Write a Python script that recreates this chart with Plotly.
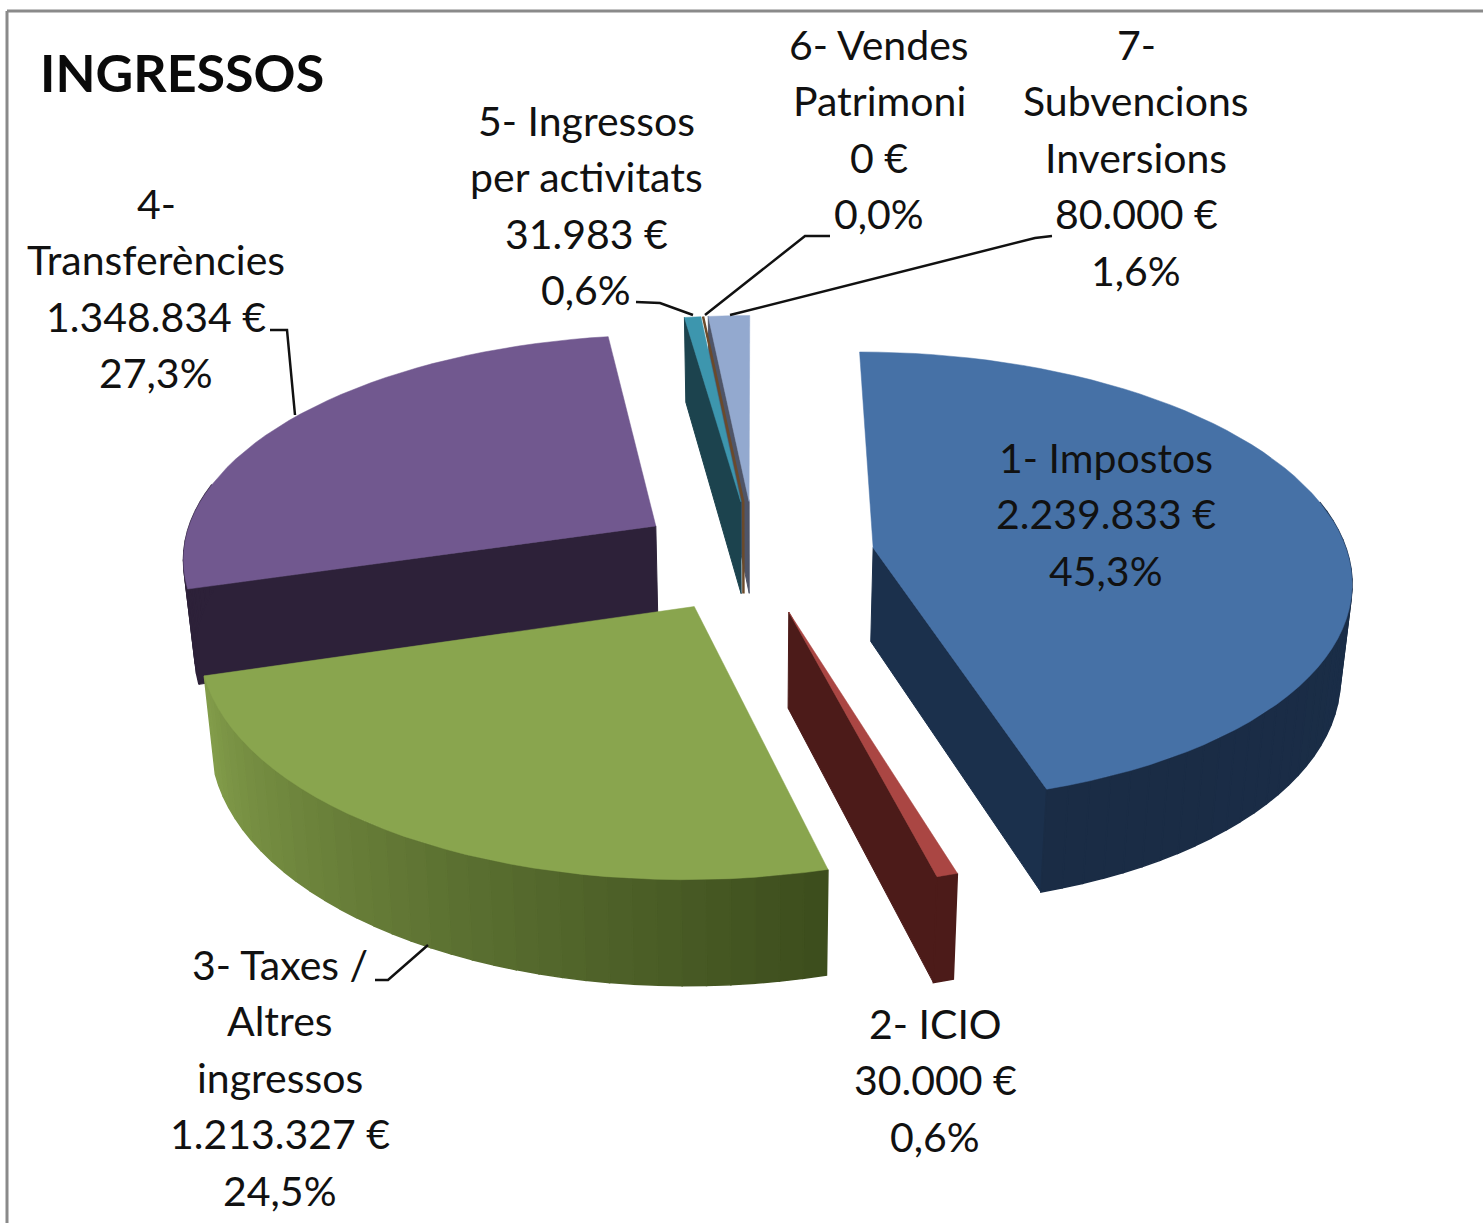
import numpy as np
import plotly.graph_objects as go

# ---- data ----
categories = ["1- Impostos", "2- ICIO", "3- Taxes / Altres ingressos", "4- Transferències",
              "5- Ingressos per activitats", "6- Vendes Patrimoni", "7- Subvencions Inversions"]
values = [2239833, 30000, 1213327, 1348834, 31983, 0, 80000]
label_lines = [
    ["1- Impostos", "2.239.833 €", "45,3%"],
    ["2- ICIO", "30.000 €", "0,6%"],
    ["3- Taxes /", "Altres", "ingressos", "1.213.327 €", "24,5%"],
    ["4-", "Transferències", "1.348.834 €", "27,3%"],
    ["5- Ingressos", "per activitats", "31.983 €", "0,6%"],
    ["6- Vendes", "Patrimoni", "0 €", "0,0%"],
    ["7-", "Subvencions", "Inversions", "80.000 €", "1,6%"],
]
top_colors = ["#4671a6", "#aa4643", "#89a54e", "#71588f", "#3d96ae", "#6b4a2a", "#93a9cf"]
wall_start = ["#1b304c", "#4c1b19", "#3c4d1d", "#2d2139", "#1c434e", "#6b4a2a", "#4f5568"]
wall_end = ["#1a2c45", "#4c1b19", "#849e4b", "#2d2139", "#1c434e", "#6b4a2a", "#4f5568"]
draw_order = [6, 5, 4, 3, 0, 2, 1]

# ---- presentation ----
CX, CY, R, EXPLODE, TILT, PERSP, HEIGHT = 755, 556, 475, 120, 0.47, 0.13, 94
BOTTOM_SCALE = 0.98
FONT = "Lato"
FS = 41
label_pos = [(1106, 457), (935, 1023), (280, 964), (156, 203), (586, 120), (879, 44), (1136, 44)]
LINE_PITCH = 56.5
leaders = [
    ([270, 287, 295], [330, 330, 415]),
    ([375, 388, 428], [980, 980, 945]),
    ([636, 660, 693], [302, 303, 315]),
    ([830, 805, 705], [236, 236, 315]),
    ([1052, 1035, 730], [236, 238, 315]),
]


def project(X, Y, Z=0.0):
    s = 1.0 / (1.0 + PERSP * np.asarray(Y) / R)
    px = CX + np.asarray(X) * s
    py = CY - np.asarray(Y) * TILT * s
    if Z:
        px = CX + (px - CX) * BOTTOM_SCALE
        py = py + Z * s ** 0.7
    return px, py


def hex2rgb(c):
    return np.array([int(c[i:i + 2], 16) for i in (1, 3, 5)], float)


def mix(a, b, t):
    v = hex2rgb(a) * (1 - t) + hex2rgb(b) * t
    return "rgb(%d,%d,%d)" % tuple(v)


fig = go.Figure()


def poly(x, y, color, width=1.0):
    x, y = list(x), list(y)
    fig.add_trace(go.Scatter(x=x + x[:1], y=y + y[:1], mode="lines", fill="toself", fillcolor=color,
                             line=dict(color=color, width=width), hoverinfo="skip", showlegend=False))


total = sum(values)
edges = np.concatenate([[0], np.cumsum(values)]) / total * 2 * np.pi

for i in draw_order:
    a0, a1 = edges[i], edges[i + 1]
    mid = (a0 + a1) / 2
    ox, oy = EXPLODE * np.sin(mid), EXPLODE * np.cos(mid)
    if values[i] == 0:
        xs = [ox, ox + R * np.sin(a0)]
        ys = [oy, oy + R * np.cos(a0)]
        px, py = project(xs, ys)
        bx, by = project(ox, oy, HEIGHT)
        fig.add_trace(go.Scatter(x=[px[1], px[0], bx], y=[py[1], py[0], by], mode="lines",
                                 line=dict(color=top_colors[i], width=2.5),
                                 hoverinfo="skip", showlegend=False))
        continue
    n = max(int(np.degrees(a1 - a0) / 2.5), 1)
    th = np.linspace(a0, a1, n + 1)
    ex, ey = ox + R * np.sin(th), oy + R * np.cos(th)
    tx, ty = project(ex, ey)
    bx, by = project(ex, ey, HEIGHT)
    ax, ay = project(ox, oy)
    abx, aby = project(ox, oy, HEIGHT)
    # radial faces that turn towards the viewer
    if np.sin(a0) < -1e-6:
        poly([ax, tx[0], bx[0], abx], [ay, ty[0], by[0], aby], wall_start[i])
    if np.sin(a1) > 1e-6:
        poly([ax, tx[-1], bx[-1], abx], [ay, ty[-1], by[-1], aby], wall_start[i])
    # outer wall
    for k in range(n):
        if np.cos((th[k] + th[k + 1]) / 2) < 0.2:
            t = (k + 0.5) / n
            poly([tx[k], tx[k + 1], bx[k + 1], bx[k]], [ty[k], ty[k + 1], by[k + 1], by[k]],
                 mix(wall_start[i], wall_end[i], t), width=1.5)
    # top
    poly([ax, *tx], [ay, *ty], top_colors[i], width=0.5)

for lx, ly in leaders:
    fig.add_trace(go.Scatter(x=lx, y=ly, mode="lines", line=dict(color="#111111", width=2.5),
                             hoverinfo="skip", showlegend=False))

ann = []
for lines, (x, y) in zip(label_lines, label_pos):
    for j, line in enumerate(lines):
        ann.append(dict(x=x, y=y + j * LINE_PITCH, text=line, showarrow=False, xanchor="center",
                        yanchor="middle", font=dict(family=FONT, size=FS, color="#111111")))
ann.append(dict(x=38, y=72, text="<b>INGRESSOS</b>", showarrow=False, xanchor="left", yanchor="middle",
                font=dict(family=FONT, size=52, color="#0a0a0a")))

fig.update_layout(
    width=1483, height=1223, margin=dict(l=0, r=0, t=0, b=0),
    paper_bgcolor="white", plot_bgcolor="white", annotations=ann, showlegend=False,
    xaxis=dict(range=[0, 1483], visible=False, fixedrange=True),
    yaxis=dict(range=[1223, 0], visible=False, fixedrange=True),
    shapes=[
        dict(type="line", x0=7, x1=1483, y0=11, y1=11, line=dict(color="#8a8a8a", width=3)),
        dict(type="line", x0=7, x1=7, y0=11, y1=1223, line=dict(color="#8a8a8a", width=3)),
    ],
)
fig.write_html("out.html", config=dict(displayModeBar=False),
               post_script="document.body.style.margin='0';document.body.style.overflow='hidden';")
